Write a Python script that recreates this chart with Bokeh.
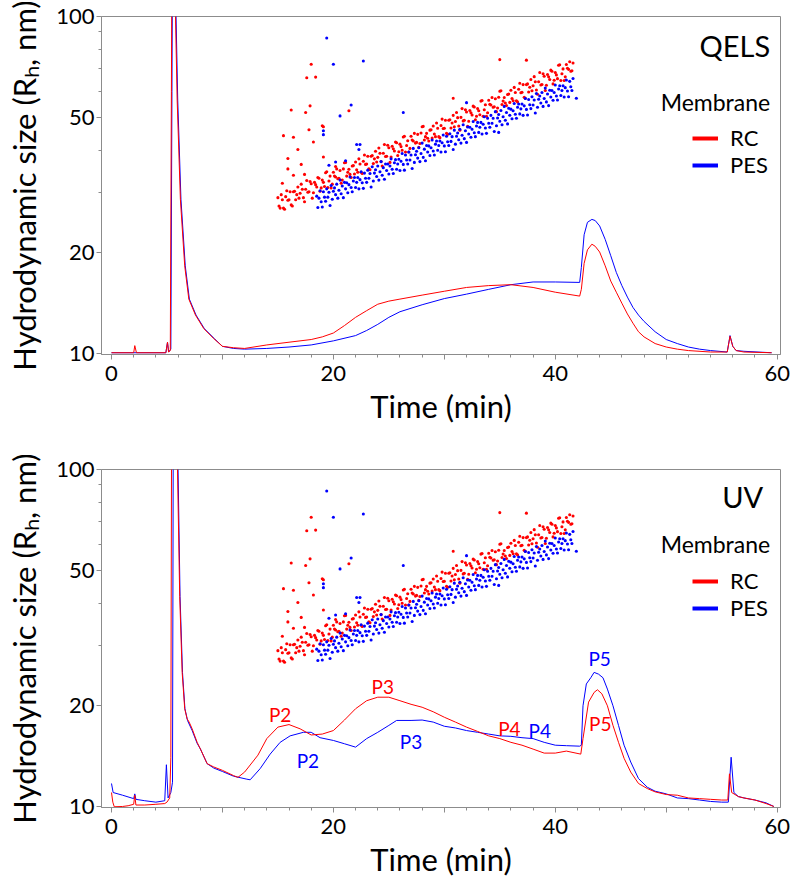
from bokeh.plotting import figure
from bokeh.models import (Range1d, FixedTicker, Label, Legend, LegendItem,
                          NumeralTickFormatter)
from bokeh.layouts import column
from bokeh.embed import file_html
from bokeh.resources import INLINE

# ---------------- data ----------------
# QELS traces (time min, signal on size axis)
qels_rc = [(0.0, 10.05), (2.0, 10.05), (2.1, 10.55), (2.25, 10.05), (4.9, 10.05), (5.05, 10.8),
           (5.15, 10.1), (5.3, 10.2), (5.4, 60), (5.5, 400), (5.62, 250), (5.77, 100), (5.92, 56.5),
           (6.21, 28.7), (6.6, 18.2), (6.97, 14.5), (7.57, 13.0), (8.32, 11.85), (9.22, 11.07),
           (10.0, 10.5), (11.0, 10.4), (12.0, 10.35), (14.0, 10.6), (16.0, 10.8), (18.0, 11.0),
           (19.0, 11.2), (20.0, 11.5), (21.0, 12.1), (22.0, 12.8), (23.0, 13.4), (24.0, 14.0),
           (25.0, 14.3), (26.0, 14.5), (28.0, 14.9), (30.0, 15.3), (32.0, 15.7), (34.0, 15.9),
           (36.0, 16.0), (38.0, 15.7), (40.0, 15.2), (42.2, 14.8), (42.35, 15.5), (42.6, 18.5),
           (42.9, 20.3), (43.3, 21.1), (43.6, 20.8), (44.0, 20.0), (44.5, 18.2), (45.0, 16.4),
           (45.5, 15.2), (46.0, 14.1), (46.5, 13.1), (47.0, 12.3), (47.5, 11.6), (48.0, 11.2),
           (49.0, 10.7), (50.0, 10.45), (51.0, 10.3), (52.0, 10.2), (54.0, 10.1), (55.5, 10.1),
           (55.75, 11.25), (56.0, 10.5), (56.3, 10.2), (57.0, 10.1), (59.5, 10.05)]
qels_pes = [(0.0, 10.05), (4.9, 10.05), (5.05, 10.8), (5.15, 10.1), (5.35, 10.3), (5.45, 60),
            (5.55, 400), (5.67, 250), (5.82, 100), (5.97, 56.5), (6.26, 28.7), (6.65, 18.2),
            (7.02, 14.5), (7.62, 13.0), (8.37, 11.85), (9.27, 11.07), (10.0, 10.5), (11.0, 10.35),
            (12.0, 10.3), (14.0, 10.35), (16.0, 10.45), (18.0, 10.6), (20.0, 10.9), (22.0, 11.3),
            (23.0, 11.7), (24.0, 12.2), (25.0, 12.8), (26.0, 13.3), (28.0, 13.95), (30.0, 14.55),
            (32.0, 15.0), (34.0, 15.5), (36.0, 16.0), (38.0, 16.3), (40.0, 16.3), (42.2, 16.25),
            (42.35, 18.0), (42.6, 22.5), (42.9, 24.5), (43.3, 25.0), (43.6, 24.8), (44.0, 23.9),
            (44.5, 21.8), (45.0, 19.5), (45.5, 17.4), (46.0, 15.9), (46.5, 14.7), (47.0, 13.7),
            (47.5, 13.0), (48.0, 12.45), (49.0, 11.6), (50.0, 11.0), (51.0, 10.7), (52.0, 10.45),
            (53.0, 10.3), (54.0, 10.2), (55.5, 10.1), (55.75, 11.3), (56.0, 10.5), (56.3, 10.2),
            (57.0, 10.15), (59.5, 10.05)]

# UV traces
uv_rc = [(0.0, 11.0), (0.12, 10.3), (0.25, 9.98), (1.0, 10.0), (1.5, 10.05), (2.0, 10.15),
         (2.1, 10.8), (2.2, 10.1), (3.0, 10.1), (4.0, 10.15), (4.8, 10.2), (5.0, 10.3),
         (5.25, 10.6), (5.35, 14), (5.45, 400), (5.6, 300), (5.8, 150), (5.95, 100), (6.15, 42),
         (6.37, 25.0), (6.6, 19.5), (6.82, 18.2), (7.0, 17.8), (7.27, 17.0), (7.72, 15.5),
         (8.02, 14.8), (8.62, 13.4), (9.22, 13.1), (10.0, 12.8), (11.0, 12.35), (11.4, 12.2),
         (12.0, 12.65), (13.2, 14.2), (14.0, 15.9), (15.0, 17.2), (16.0, 17.5), (17.0, 17.0),
         (18.0, 16.3), (19.0, 16.4), (20.0, 16.8), (21.0, 18.05), (22.0, 19.5), (23.0, 20.6),
         (24.0, 21.1), (25.0, 21.1), (26.0, 20.6), (27.0, 20.1), (28.0, 19.7), (29.0, 19.1),
         (30.0, 18.4), (31.0, 17.8), (32.0, 17.2), (33.0, 16.7), (34.0, 16.2), (35.0, 15.9),
         (36.0, 15.5), (37.0, 15.2), (38.0, 14.8), (39.0, 14.4), (40.0, 14.4), (41.0, 14.6),
         (42.3, 14.3), (42.5, 15.9), (43.0, 20.4), (43.5, 21.8), (43.8, 22.2), (44.2, 21.6),
         (44.7, 19.9), (45.2, 17.4), (45.7, 15.5), (46.2, 13.9), (46.8, 12.65), (47.5, 11.7),
         (48.3, 11.3), (49.0, 11.05), (50.0, 10.85), (51.0, 10.8), (52.0, 10.6), (53.0, 10.55),
         (54.0, 10.5), (55.0, 10.45), (55.55, 10.45), (55.7, 12.5), (55.9, 11.0), (56.5, 10.7),
         (57.0, 10.6), (58.0, 10.45), (59.0, 10.2), (59.7, 10.0)]
uv_pes = [(0.0, 11.7), (0.15, 11.0), (1.0, 10.8), (2.0, 10.55), (2.1, 10.9), (2.2, 10.5),
          (3.0, 10.4), (4.0, 10.3), (4.8, 10.4), (4.95, 13.3), (5.1, 10.6), (5.35, 11.0),
          (5.5, 11.8), (5.6, 400), (5.75, 300), (5.9, 150), (6.0, 100), (6.18, 42), (6.4, 25.0),
          (6.62, 19.5), (6.85, 18.0), (7.27, 16.8), (7.72, 15.4), (8.02, 14.8), (8.62, 13.4),
          (9.22, 13.0), (10.0, 12.7), (11.0, 12.3), (12.2, 12.05), (12.5, 12.0), (13.4, 12.95),
          (14.3, 14.3), (15.2, 15.5), (16.1, 16.2), (17.3, 16.6), (18.0, 16.6), (18.8, 16.0),
          (20.0, 15.7), (21.0, 15.35), (22.0, 15.0), (23.0, 15.9), (24.0, 16.6), (25.0, 17.4),
          (25.7, 18.0), (27.0, 18.0), (28.0, 18.05), (29.0, 17.8), (30.0, 17.3), (31.0, 17.1),
          (32.0, 16.8), (33.0, 16.6), (34.0, 16.4), (35.0, 16.2), (36.0, 16.15), (37.0, 16.0),
          (38.0, 15.9), (39.0, 15.5), (40.0, 15.2), (41.0, 15.15), (42.2, 15.1), (42.35, 15.2),
          (42.5, 19.9), (42.8, 23.1), (43.2, 24.1), (43.5, 25.0), (43.9, 24.7), (44.3, 24.1),
          (44.7, 22.3), (45.2, 19.9), (45.7, 17.4), (46.2, 15.2), (46.8, 13.55), (47.5, 12.1),
          (48.3, 11.4), (49.0, 11.1), (50.0, 10.9), (51.0, 10.6), (52.0, 10.55), (53.0, 10.45),
          (54.0, 10.35), (55.0, 10.3), (55.6, 10.3), (55.85, 14.0), (56.1, 11.0), (56.5, 10.7),
          (57.0, 10.6), (58.0, 10.45), (59.0, 10.25), (59.7, 10.0)]

# Hydrodynamic size (nm), sampled every 0.1 min
rc_size_start = 15.0
rc_size_v = [
    29.0, 27.4, 27.0, 29.6, 28.6, 27.0, 26.8, 29.2, 30.4, 28.5,
    28.6, 30.2, 27.6, 27.4, 30.2, 30.3, 28.6, 29.6, 31.2, 28.9,
    29.9, 31.8, 30.7, 29.0, 28.2, 30.7, 32.6, 30.1, 30.2, 32.4,
    31.9, 28.9, 30.0, 32.2, 31.7, 31.2, 33.3, 33.1, 30.3, 31.0,
    32.7, 32.2, 31.3, 34.4, 34.6, 31.1, 32.5, 33.6, 31.0, 31.8,
    34.5, 33.6, 33.4, 35.3, 33.0, 33.1, 34.9, 32.0, 32.7, 35.3,
    36.8, 36.9, 33.6, 34.5, 35.2, 34.0, 33.3, 36.0, 36.1, 34.1,
    37.0, 35.1, 34.5, 37.8, 36.5, 34.5, 34.2, 37.2, 38.8, 36.4,
    36.5, 38.5, 35.3, 35.1, 38.5, 38.7, 36.6, 37.8, 39.8, 37.0,
    38.2, 40.7, 39.3, 37.1, 36.0, 39.3, 41.7, 38.4, 38.5, 41.5,
    40.8, 36.9, 38.3, 41.2, 40.5, 39.9, 42.4, 42.2, 38.7, 39.7,
    41.8, 41.1, 40.1, 43.9, 44.1, 39.6, 41.4, 42.8, 39.6, 40.6,
    44.1, 43.0, 42.7, 45.0, 42.1, 42.3, 44.7, 40.9, 42.0, 45.1,
    47.1, 47.2, 43.0, 44.0, 45.0, 43.5, 42.7, 46.0, 46.1, 43.6,
    47.3, 44.8, 44.0, 48.3, 46.6, 44.0, 43.7, 47.5, 49.6, 46.5,
    46.6, 49.2, 45.0, 44.7, 49.2, 49.4, 46.7, 48.3, 50.9, 47.1,
    48.8, 51.9, 50.1, 47.3, 46.0, 50.2, 53.3, 49.0, 49.2, 52.9,
    52.1, 47.2, 48.9, 52.6, 51.8, 51.0, 54.2, 53.9, 49.4, 50.6,
    53.3, 52.5, 51.1, 56.1, 56.3, 50.6, 52.9, 54.7, 50.6, 51.8,
    56.4, 54.9, 54.6, 57.5, 53.8, 54.0, 57.0, 52.2, 53.5, 57.6,
    60.0, 60.2, 54.8, 56.1, 57.5, 55.4, 54.4, 58.7, 58.9, 55.6,
    60.4, 57.1, 56.2, 61.6, 59.5, 56.2, 55.8, 60.8, 63.4, 59.4,
    59.6, 62.8, 57.6, 57.2, 62.8, 63.1, 59.7, 61.7, 65.0, 60.2,
    62.3, 66.3, 64.0, 60.5, 58.8, 64.0, 68.2, 62.6, 62.8, 67.6,
    66.5, 60.3, 62.5, 67.3, 66.2, 65.0, 69.3, 68.8, 63.1, 64.7,
    68.2, 67.1, 65.4, 71.7, 71.9, 64.6, 67.6, 69.9, 64.6, 66.2,
    72.0, 70.2, 69.7, 73.4, 68.8, 69.0, 72.8]
pes_size_start = 18.5
pes_size_v = [
    29.3, 27.1, 28.9, 30.4, 28.2,
    27.2, 30.2, 29.1, 28.3, 30.8, 29.1, 30.1, 27.5, 31.5, 28.7,
    30.3, 31.0, 29.6, 31.8, 28.9, 30.5, 32.7, 29.8, 31.4, 29.0,
    32.2, 30.8, 32.1, 30.0, 31.7, 33.4, 31.1, 30.2, 32.5, 33.3,
    31.1, 32.2, 33.3, 30.8, 32.8, 34.6, 32.1, 30.9, 34.3, 33.1,
    32.2, 35.0, 33.1, 34.2, 31.2, 35.8, 32.5, 34.3, 35.1, 33.5,
    36.0, 32.7, 34.6, 37.1, 33.8, 35.6, 32.9, 36.5, 34.9, 36.5,
    34.1, 36.0, 37.8, 35.2, 34.2, 36.8, 37.6, 35.2, 36.5, 37.7,
    34.9, 37.2, 39.2, 36.4, 35.0, 38.8, 37.5, 36.5, 39.6, 37.5,
    38.8, 35.4, 40.6, 36.9, 38.9, 39.8, 38.0, 40.8, 37.1, 39.2,
    42.1, 38.2, 40.4, 37.3, 41.4, 39.6, 41.3, 38.7, 40.8, 43.0,
    39.9, 38.8, 41.8, 42.7, 40.1, 41.4, 42.7, 39.6, 42.2, 44.5,
    41.3, 39.7, 44.1, 42.5, 41.4, 44.9, 42.6, 44.0, 40.3, 46.0,
    41.8, 44.1, 45.1, 43.1, 46.3, 42.1, 44.4, 47.7, 43.4, 45.8,
    42.3, 47.0, 44.8, 46.9, 43.8, 46.3, 48.8, 45.2, 44.0, 47.3,
    48.5, 45.3, 46.9, 48.5, 44.8, 47.9, 50.4, 46.7, 45.0, 49.9,
    48.2, 46.9, 50.9, 48.2, 49.9, 45.6, 52.2, 47.4, 50.0, 51.2,
    48.9, 52.6, 47.7, 50.4, 54.1, 49.2, 51.9, 48.0, 53.4, 50.9,
    53.1, 49.7, 52.5, 55.2, 51.3, 49.9, 53.8, 55.0, 51.4, 53.2,
    55.0, 50.9, 54.3, 57.1, 53.0, 51.0, 56.7, 54.7, 53.3, 57.8,
    54.6, 56.5, 51.7, 59.1, 53.8, 56.8, 58.1, 55.4, 59.5, 54.1,
    57.1, 61.3, 55.8, 58.9, 54.4, 60.4, 57.7, 60.3, 56.4, 59.5,
    62.6, 58.1, 56.5, 60.9, 62.3, 58.3, 60.3, 62.3, 57.7, 61.5,
    64.8, 60.1, 57.8, 64.2, 61.9, 60.3, 65.5]
rc_size_t = [round(rc_size_start + 0.1 * i, 1) for i in range(len(rc_size_v))]
pes_size_t = [round(pes_size_start + 0.1 * i, 1) for i in range(len(pes_size_v))]

# scattered size readings away from the main band
rc_out_t = [15.5, 16.4, 16.2, 18.0, 17.6, 18.4, 17.9, 17.5, 17.8, 19.0, 18.2, 16.8, 17.1,
            15.9, 15.9, 16.4, 15.4, 19.1, 21.4, 20.2, 17.4, 30.8, 35.0, 37.4, 19.1]
rc_out_v = [44.3, 43.8, 52.8, 72.2, 65.8, 66.1, 54.3, 51.9, 46.1, 47.4, 42.4, 40.3, 36.4,
            37.9, 35.3, 33.8, 32.0, 38.3, 52.5, 35.9, 34.0, 57.2, 74.5, 74.2, 47.1]
pes_out_t = [19.4, 20.0, 22.7, 21.6, 20.6, 19.1, 19.1, 22.1, 22.4, 22.3, 21.1, 20.2, 19.6,
             26.3, 32.0, 41.9, 34.9]
pes_out_v = [86.3, 72.2, 73.8, 54.6, 50.7, 45.8, 44.6, 41.7, 41.7, 40.3, 37.3, 37.0, 36.2,
             51.9, 55.5, 57.2, 45.3]

# peak annotations in the UV panel: (text, time, level, colour)
uv_peaks = [("P2", 15.2, 18.75, "red"), ("P2", 17.7, 13.7, "blue"),
            ("P3", 24.45, 22.7, "red"), ("P3", 27.0, 15.6, "blue"),
            ("P4", 35.86, 17.0, "red"), ("P4", 38.6, 16.76, "blue"),
            ("P5", 44.0, 27.4, "blue"), ("P5", 44.05, 17.66, "red")]

x_major = [0, 10, 20, 30, 40, 50, 60]
x_minor = [2, 4, 6, 8, 12, 14, 16, 18, 22, 24, 26, 28, 32, 34, 36, 38, 42, 44, 46, 48,
           52, 54, 56, 58]
y_major = [10, 20, 50, 100]
y_minor = [30, 40, 60, 70, 80, 90]

RED = "#ff0000"
BLUE = "#0000ff"
FONT = "Lato"
GREY = "#8c8c8c"
NAN = float("nan")


def build(rc_trace, pes_trace, name, name_y, name_x, memb_y, legend_loc, leg_spacing,
          top, bottom, peaks):
    h = top + 339 + bottom
    p = figure(width=792, height=h, y_axis_type="log",
               x_range=Range1d(-0.9, 60.3), y_range=Range1d(9.93, 100),
               output_backend="svg", toolbar_location=None,
               min_border_left=101, min_border_right=12,
               min_border_top=top, min_border_bottom=bottom)
    p.xgrid.visible = False
    p.ygrid.visible = False
    p.outline_line_color = GREY
    p.outline_line_width = 1

    p.xaxis.ticker = FixedTicker(ticks=x_major, minor_ticks=x_minor)
    p.xaxis.major_label_overrides = {10: "", 30: "", 50: ""}
    p.yaxis.ticker = FixedTicker(ticks=y_major, minor_ticks=y_minor)
    p.yaxis.formatter = NumeralTickFormatter(format="0")
    p.xaxis.axis_label = "Time (min)"
    p.yaxis.axis_label = "Hydrodynamic size (R\u2095, nm)"
    for ax in (p.xaxis[0], p.yaxis[0]):
        ax.axis_line_color = GREY
        ax.major_tick_line_color = GREY
        ax.minor_tick_line_color = GREY
        ax.major_tick_in = 0
        ax.major_tick_out = 5
        ax.minor_tick_in = 0
        ax.minor_tick_out = 3
        ax.major_label_text_font = FONT
        ax.major_label_text_font_size = "22px"
        ax.major_label_text_color = "black"
        ax.axis_label_text_font = FONT
        ax.axis_label_text_font_size = "31px"
        ax.axis_label_text_font_style = "normal"
        ax.axis_label_text_color = "black"
    p.xaxis.major_label_standoff = 6
    p.xaxis.axis_label_standoff = 3
    p.yaxis.major_label_standoff = 2
    p.yaxis.axis_label_standoff = 10

    p.line([t for t, v in pes_trace], [v for t, v in pes_trace], color=BLUE, line_width=1)
    p.line([t for t, v in rc_trace], [v for t, v in rc_trace], color=RED, line_width=1)

    p.scatter(rc_size_t, rc_size_v, marker="circle", size=3.1, color=RED, line_color=None)
    p.scatter(rc_out_t, rc_out_v, marker="circle", size=3.1, color=RED, line_color=None)
    p.scatter(pes_size_t, pes_size_v, marker="circle", size=3.1, color=BLUE, line_color=None)
    p.scatter(pes_out_t, pes_out_v, marker="circle", size=3.1, color=BLUE, line_color=None)

    p.add_layout(Label(x=name_x, y=name_y, text=name, text_align="right",
                       text_baseline="middle", text_font=FONT, text_font_size="29px",
                       text_color="black"))
    p.add_layout(Label(x=59.37, y=memb_y, text="Membrane", text_align="right",
                       text_baseline="middle", text_font=FONT, text_font_size="23px",
                       text_color="black"))

    # legend proxies (no visible data)
    r_leg = p.line([NAN], [NAN], color=RED, line_width=4)
    b_leg = p.line([NAN], [NAN], color=BLUE, line_width=4)
    leg = Legend(items=[LegendItem(label="RC", renderers=[r_leg]),
                        LegendItem(label="PES", renderers=[b_leg])],
                 location=legend_loc, padding=0, spacing=leg_spacing, glyph_width=26,
                 glyph_height=20, label_standoff=12, label_text_font=FONT,
                 label_text_font_size="22px", label_text_color="black",
                 border_line_color=None, background_fill_alpha=0)
    p.add_layout(leg)

    for txt, t, v, c in peaks:
        p.add_layout(Label(x=t, y=v, text=txt, text_align="center", text_baseline="middle",
                           text_font=FONT, text_font_size="19px", text_color=c))
    return p


p1 = build(qels_rc, qels_pes, "QELS", 82.2, 59.37, 55.8, (591, 176), -7, 16, 72, [])
p2 = build(uv_rc, uv_pes, "UV", 83.0, 58.74, 60.1, (591, 186), -8, 469 - (16 + 339 + 72), 72,
           uv_peaks)

layout = column(p1, p2, spacing=0)
open("out.html", "w").write(file_html(layout, INLINE, "Hydrodynamic size"))
